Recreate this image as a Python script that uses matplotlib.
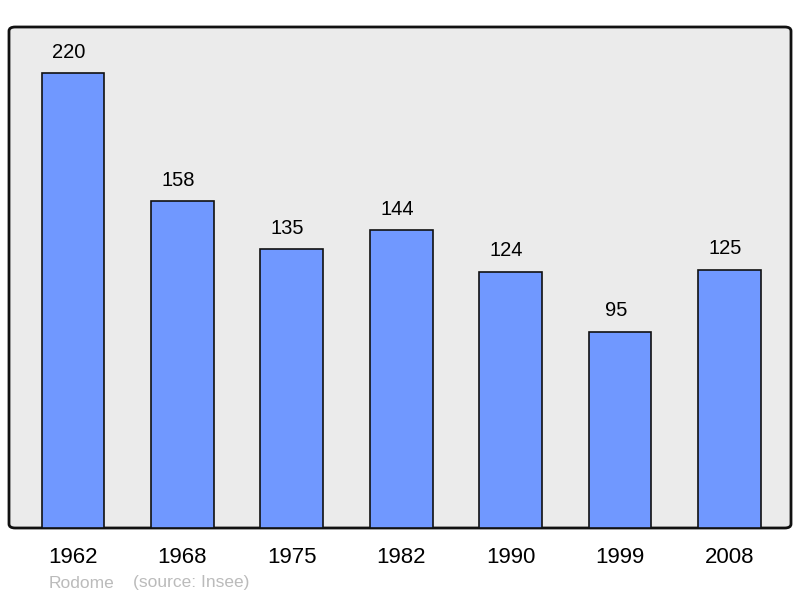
import matplotlib.pyplot as plt
from matplotlib.patches import FancyBboxPatch

years = ['1962', '1968', '1975', '1982', '1990', '1999', '2008']
population = [220, 158, 135, 144, 124, 95, 125]

plt.rcParams['font.family'] = ['Liberation Sans', 'DejaVu Sans']

fig = plt.figure(figsize=(8, 5.98), dpi=100)
ax = fig.add_axes([9 / 800, 70 / 598, 782 / 800, 501 / 598])
ax.set_facecolor('none')

# rounded frame behind the bars
frame = FancyBboxPatch((0, 0), 1, 1, boxstyle='round,pad=0,rounding_size=0.008',
                       transform=ax.transAxes, facecolor='#ebebeb', edgecolor='#111111',
                       linewidth=2, zorder=0, clip_on=False)
ax.add_patch(frame)

x = range(len(years))
ax.bar(x, population, width=0.575, color='#7098ff', edgecolor='#111111', linewidth=1.2, zorder=2)

for i, v in zip(x, population):
    ax.annotate(str(v), (i, v), xytext=(-3, 8), textcoords='offset points',
                ha='center', va='bottom', fontsize=14.5)

ax.set_xlim(-0.585, 6.563)
ax.set_ylim(0, 242.3)
ax.set_xticks(list(x))
ax.set_xticklabels(years, fontsize=16)
ax.tick_params(axis='x', length=0, pad=14)
ax.set_yticks([])
for s in ax.spines.values():
    s.set_visible(False)

fig.text(49 / 800, 1 - 583 / 598, 'Rodome', color='#bbbbbb', fontsize=12.5, va='center')
fig.text(133 / 800, 1 - 583 / 598, '(source: Insee)', color='#bbbbbb', fontsize=12.5, va='center')

plt.savefig('out.png', dpi=100)
